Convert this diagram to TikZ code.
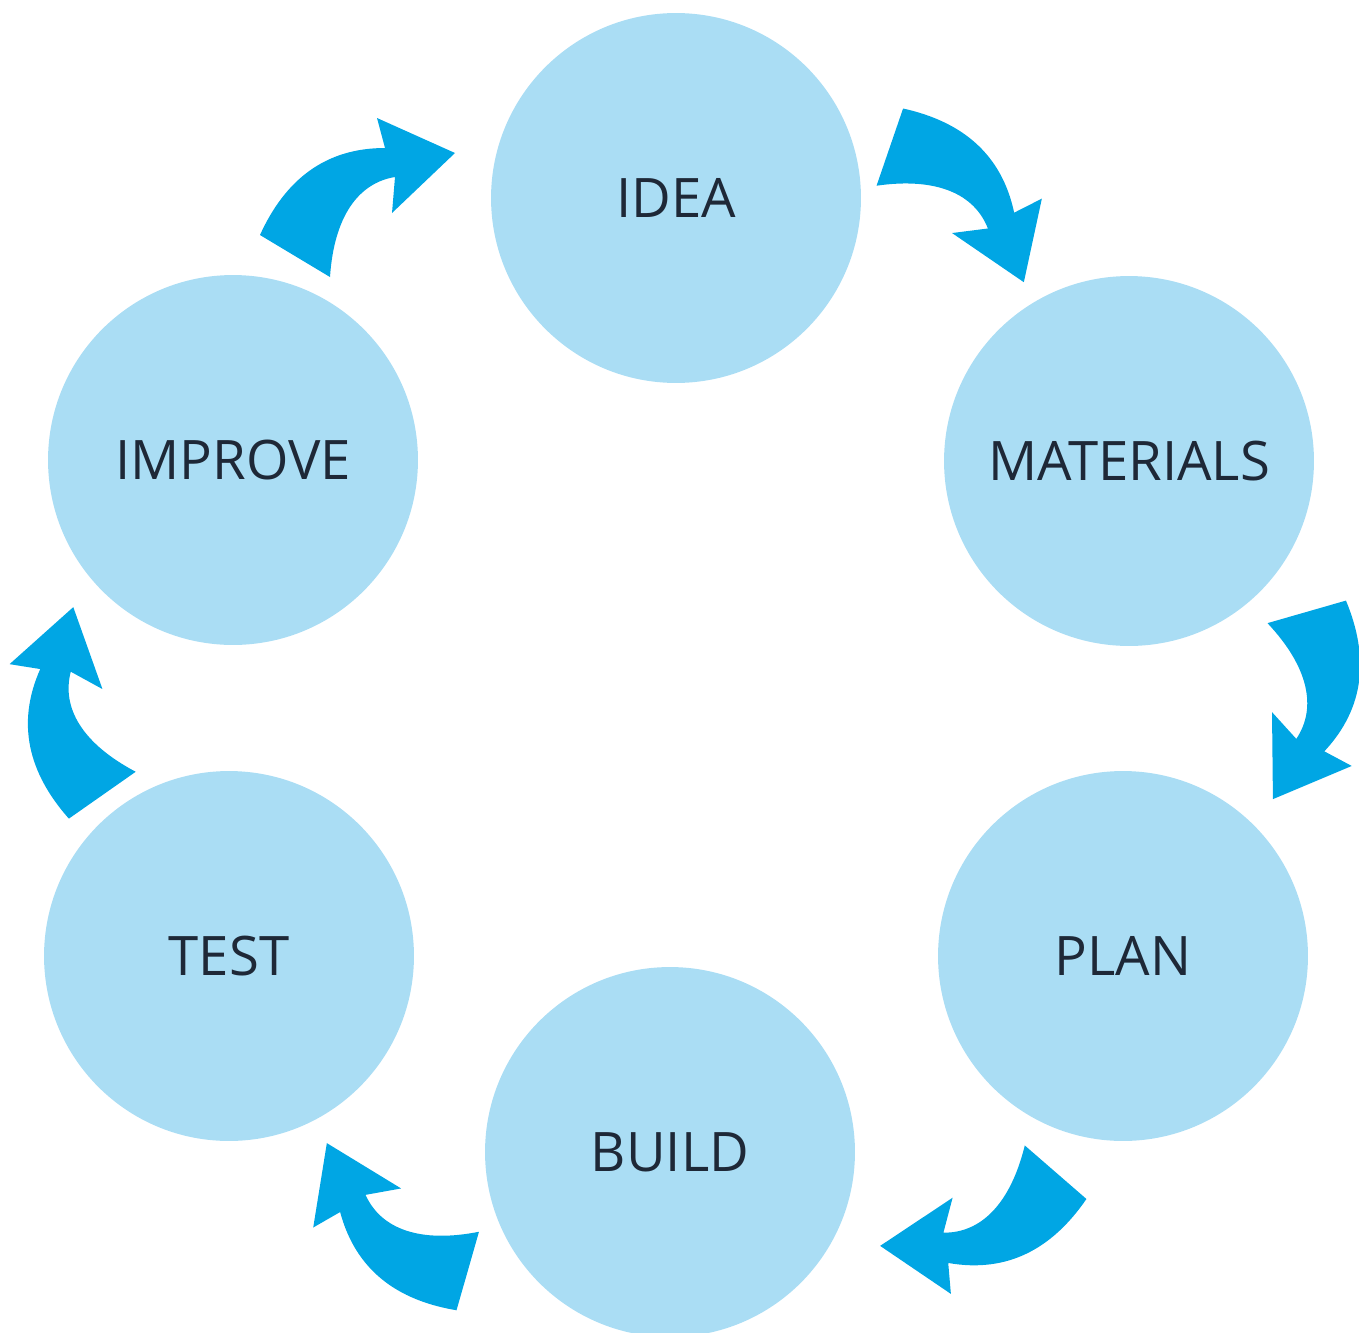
\documentclass[tikz,border=0pt]{standalone}
\usepackage{fontspec}
\setmainfont{Open Sans}
\usetikzlibrary{positioning}
\definecolor{stagefill}{RGB}{170,221,244}
\definecolor{arrowblue}{RGB}{0,166,228}
\definecolor{labelink}{RGB}{30,40,55}

% one bent arrow, drawn round its middle
\newcommand{\cyclearrow}[2]{%
  \begin{scope}[shift={(#1)},rotate=#2]
    \fill[arrowblue] (-100,40) .. controls (-75,-15) and (-35,-47) .. (25,-47)
      -- (17,-77) -- (95,-42) -- (32,18) -- (35,-18)
      .. controls (-2,-12) and (-26,22) .. (-30,82) -- cycle;
  \end{scope}}

\begin{document}
\begin{tikzpicture}[x=0.02cm,y=-0.02cm,
  stage/.style={circle,fill=stagefill,minimum size=7.4cm,inner sep=0pt,
    text=labelink,font=\fontsize{31}{37}\selectfont}]
\useasboundingbox (0,0) rectangle (1359,1332);
\node[stage] (idea) at (676,198) {IDEA};
\node[stage] (materials) at (1129,461) {MATERIALS};
\node[stage] (plan) at (1123,956) {PLAN};
\node[stage] (build) at (670,1152) {BUILD};
\node[stage] (test) at (229,956) {TEST};
\node[stage] (improve) at (233,460) {IMPROVE};
% arrows round the cycle
\cyclearrow{360,195}{0}
\cyclearrow{963,198}{-78}
\cyclearrow{1307,701}{-133}
\cyclearrow{981,1221}{170}
\cyclearrow{392,1224}{105}
\cyclearrow{73,711}{66}
\end{tikzpicture}
\end{document}
